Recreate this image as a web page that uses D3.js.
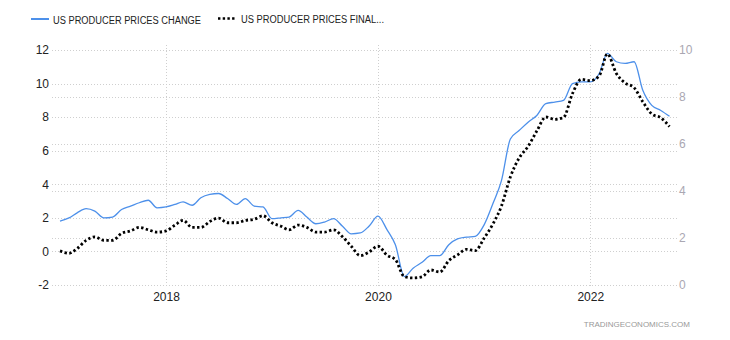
<!DOCTYPE html>
<html>
<head>
<meta charset="utf-8">
<script src="https://cdn.jsdelivr.net/npm/d3@7"></script>
<style>
  body { margin: 0; background: #fff; }
  svg { display: block; font-family: "Liberation Sans", Arial, sans-serif; }
</style>
</head>
<body>
<svg id="chart" width="730" height="340"></svg>
<script>
// Monthly year-over-year changes, Jan 2017 – Oct 2022
const firstMonth = new Date(2017, 0, 1);
const lastMonth = new Date(2022, 9, 1);

// Headline producer prices change (%), left axis
const producerPricesChange = [
  1.8, 2.0, 2.3, 2.55, 2.4, 2.0, 2.05, 2.5, 2.7, 2.9, 3.05, 2.6,
  2.65, 2.8, 2.95, 2.75, 3.2, 3.4, 3.45, 3.15, 2.8, 3.15, 2.7, 2.65,
  1.95, 2.0, 2.05, 2.45, 2.05, 1.65, 1.75, 1.95, 1.5, 1.05, 1.1, 1.5,
  2.1, 1.3, 0.4, -1.5, -1.0, -0.65, -0.25, -0.25, 0.4, 0.75, 0.85, 0.9,
  1.6, 2.9, 4.2, 6.7, 7.2, 7.7, 8.1, 8.8, 8.9, 9.0, 10.0, 10.1,
  10.1, 10.6, 11.8, 11.3, 11.2, 11.3, 9.6, 8.7, 8.4, 8.05
];

// Producer prices final demand (%), right axis
const producerPricesFinal = [
  1.45, 1.35, 1.55, 1.9, 2.05, 1.9, 1.9, 2.2, 2.3, 2.45, 2.35, 2.25,
  2.3, 2.55, 2.75, 2.45, 2.45, 2.7, 2.85, 2.65, 2.65, 2.75, 2.8, 2.95,
  2.65, 2.5, 2.35, 2.55, 2.45, 2.25, 2.25, 2.35, 2.05, 1.65, 1.25, 1.4,
  1.65, 1.27, 1.08, 0.35, 0.3, 0.35, 0.64, 0.55, 1.04, 1.28, 1.52, 1.46,
  2.0, 2.62, 3.35, 4.6, 5.4, 5.9, 6.55, 7.15, 7.05, 7.13, 8.15, 8.75,
  8.7, 8.9, 9.83, 9.0, 8.6, 8.4, 7.8, 7.28, 7.12, 6.74
];

const leftTicks = [-2, 0, 2, 4, 6, 8, 10, 12];
const rightTicks = [0, 2, 4, 6, 8, 10];
const yearTicks = [2018, 2020, 2022];
const legendLabels = ["US PRODUCER PRICES CHANGE", "US PRODUCER PRICES FINAL..."];
const sourceLabel = "TRADINGECONOMICS.COM";

const months = d3.timeMonth.range(firstMonth, d3.timeMonth.offset(lastMonth, 1));

const svg = d3.select("#chart");
const plot = { left: 52, right: 677, top: 50, bottom: 285 };

const x = d3.scaleTime().domain([firstMonth, lastMonth]).range([60, 669.5]);
const yLeft = d3.scaleLinear().domain([-2, 12]).range([plot.bottom, plot.top]);
const yRight = d3.scaleLinear().domain([0, 10]).range([plot.bottom, plot.top]);

const gridColor = "#cfcfcf";
const plainNumber = d => String(d);

// Horizontal grid for both scales
const grid = svg.append("g").attr("stroke", gridColor).attr("stroke-width", 1)
  .attr("stroke-dasharray", "1,2").attr("shape-rendering", "crispEdges");
leftTicks.forEach(t => grid.append("line")
  .attr("x1", plot.left).attr("x2", plot.right)
  .attr("y1", Math.round(yLeft(t)) + 0.5).attr("y2", Math.round(yLeft(t)) + 0.5));
rightTicks.forEach(t => grid.append("line")
  .attr("x1", plot.left).attr("x2", plot.right)
  .attr("y1", Math.round(yRight(t)) + 0.5).attr("y2", Math.round(yRight(t)) + 0.5));

// Vertical year grid
yearTicks.forEach(yr => {
  const xp = Math.round(x(new Date(yr, 0, 1))) + 0.5;
  grid.append("line").attr("x1", xp).attr("x2", xp)
    .attr("y1", plot.top - 5).attr("y2", plot.bottom + 3);
});

// Left axis
const leftAxis = d3.axisLeft(yLeft).tickValues(leftTicks).tickFormat(plainNumber)
  .tickSize(0).tickPadding(0);
const gL = svg.append("g").attr("transform", `translate(${plot.left - 3},0)`).call(leftAxis);
gL.select(".domain").remove();
gL.selectAll("text").attr("fill", "#222").style("font-size", "12px")
  .style("font-family", '"Liberation Sans", Arial, sans-serif');

// Right axis
const rightAxis = d3.axisRight(yRight).tickValues(rightTicks).tickFormat(plainNumber)
  .tickSize(0).tickPadding(0);
const gR = svg.append("g").attr("transform", `translate(${plot.right + 2},0)`).call(rightAxis);
gR.select(".domain").remove();
gR.selectAll("text").attr("fill", "#aaa7b2").style("font-size", "12px")
  .style("font-family", '"Liberation Sans", Arial, sans-serif');

// Bottom axis (years)
const bottomAxis = d3.axisBottom(x)
  .tickValues(yearTicks.map(yr => new Date(yr, 0, 1)))
  .tickFormat(d3.timeFormat("%Y")).tickSize(0).tickPadding(0);
const gB = svg.append("g").attr("transform", `translate(0,${plot.bottom + 7})`).call(bottomAxis);
gB.select(".domain").remove();
gB.selectAll("text").attr("fill", "#222").style("font-size", "12px")
  .style("font-family", '"Liberation Sans", Arial, sans-serif');

// Series lines
const curve = d3.curveMonotoneX;
const lineLeft = d3.line().x((d, i) => x(months[i])).y(d => yLeft(d)).curve(curve);
const lineRight = d3.line().x((d, i) => x(months[i])).y(d => yRight(d)).curve(curve);

svg.append("path").datum(producerPricesChange)
  .attr("d", lineLeft).attr("fill", "none")
  .attr("stroke", "#4d90ea").attr("stroke-width", 1.3);

svg.append("path").datum(producerPricesFinal)
  .attr("d", lineRight).attr("fill", "none")
  .attr("stroke", "#000").attr("stroke-width", 2.8)
  .attr("stroke-dasharray", "2.4,2.4");

// Legend
const legend = svg.append("g");
legend.append("line").attr("x1", 31).attr("x2", 49).attr("y1", 19).attr("y2", 19)
  .attr("stroke", "#4d90ea").attr("stroke-width", 2);
legend.append("text").attr("x", 53).attr("y", 24)
  .attr("fill", "#222").style("font-size", "10px")
  .attr("textLength", 148).attr("lengthAdjust", "spacingAndGlyphs")
  .text(legendLabels[0]);
legend.append("line").attr("x1", 218).attr("x2", 236).attr("y1", 18.5).attr("y2", 18.5)
  .attr("stroke", "#000").attr("stroke-width", 2.6).attr("stroke-dasharray", "2.4,2.3");
legend.append("text").attr("x", 241).attr("y", 22.5)
  .attr("fill", "#222").style("font-size", "10px")
  .attr("textLength", 143).attr("lengthAdjust", "spacingAndGlyphs")
  .text(legendLabels[1]);

// Source
svg.append("text").attr("x", 690).attr("y", 327).attr("text-anchor", "end")
  .attr("fill", "#999").style("font-size", "8px")
  .text(sourceLabel);
</script>
</body>
</html>
